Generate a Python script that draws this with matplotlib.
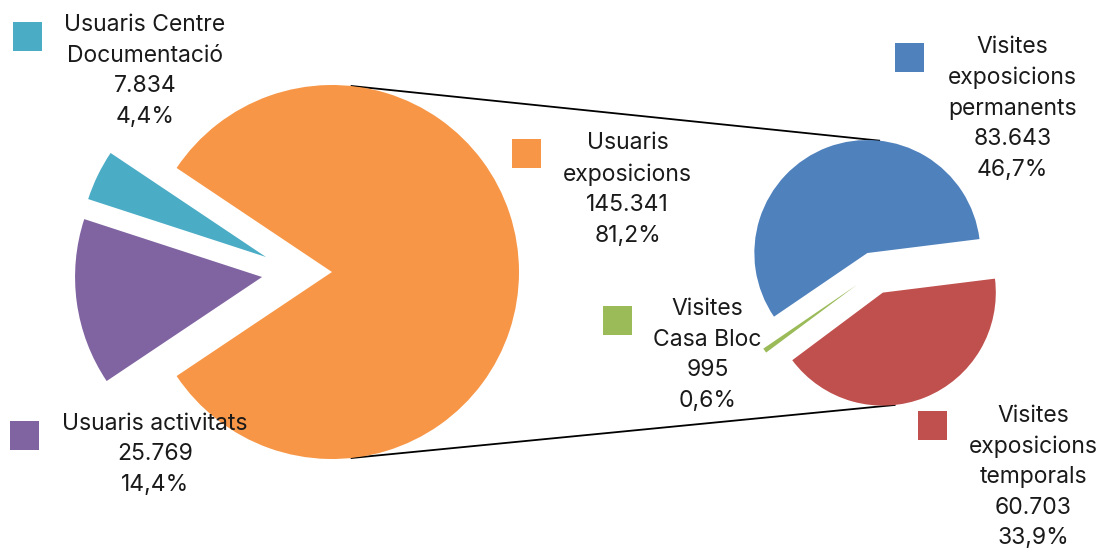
import math
import matplotlib
matplotlib.use('Agg')
import matplotlib.pyplot as plt

plt.rcParams['font.family'] = ['Inter', 'DejaVu Sans']

# main pie
main_names = ['Usuaris\nexposicions', 'Usuaris Centre\nDocumentació', 'Usuaris activitats']
main_values = [145341, 7834, 25769]
main_colors = ['#F79646', '#4BACC6', '#8064A2']

# secondary pie (breakdown of "Usuaris exposicions")
sub_names = ['Visites\nexposicions\npermanents', 'Visites\nCasa Bloc', 'Visites\nexposicions\ntemporals']
sub_values = [83643, 995, 60703]
sub_colors = ['#4F81BD', '#9BBB59', '#C0504D']

W, H = 1105, 551
total = sum(main_values)


def fmt(v):
    num = f'{v:,}'.replace(',', '.')
    pct = f'{100 * v / total:.1f}'.replace('.', ',')
    return f'{num}\n{pct}%'


fig = plt.figure(figsize=(W / 100, H / 100), dpi=100)
ax = fig.add_axes([0, 0, 1, 1])

# left pie, orange slice centred on the right
start = -360 * main_values[0] / total / 2
w_main, _ = ax.pie(main_values, colors=main_colors, startangle=start,
                   center=(332, H - 272), radius=187, frame=True,
                   wedgeprops=dict(linewidth=0))
# explosion of the two small slices (distance in radii, direction in deg)
for w, (d, ang) in zip(w_main[1:], [(0.362, 167.2), (0.375, 184.1)]):
    cx, cy = w.center
    w.set_center((cx + d * w.r * math.cos(math.radians(ang)),
                  cy + d * w.r * math.sin(math.radians(ang))))

w_sub, _ = ax.pie(sub_values, colors=sub_colors, startangle=7.1,
                  center=(874.6, H - 272.2), radius=113, frame=True,
                  explode=[20.5, 22, 22], wedgeprops=dict(linewidth=0))

# connector lines
a = math.radians(84)
o = w_main[0]
b = w_sub[0]
r = w_sub[2]
ax.plot([o.center[0] + o.r * math.cos(a), b.center[0] + b.r * math.cos(a)],
        [o.center[1] + o.r * math.sin(a), b.center[1] + b.r * math.sin(a)],
        color='black', lw=1.3, zorder=0)
ax.plot([o.center[0] + o.r * math.cos(-a), r.center[0] + r.r * math.cos(-a)],
        [o.center[1] + o.r * math.sin(-a), r.center[1] + r.r * math.sin(-a)],
        color='black', lw=1.3, zorder=0)

# labels: (square centre x, y), (text centre x, y) in pixels from top
label_pos = {
    'main': [((526.5, 153.5), (627.5, 189.5)),
             ((27.5, 36.5), (145, 71)),
             ((24.5, 435.5), (155, 454.5))],
    'sub': [((909.5, 57.5), (1012.5, 108.5)),
            ((617.5, 320.5), (707.5, 355)),
            ((932.5, 425.5), (1033.5, 477))],
}

for names, values, colors, pos in [(main_names, main_values, main_colors, label_pos['main']),
                                   (sub_names, sub_values, sub_colors, label_pos['sub'])]:
    for name, v, c, (sq, tx) in zip(names, values, colors, pos):
        ax.add_patch(plt.Rectangle((sq[0] - 14.5, H - sq[1] - 14.5), 29, 29,
                                   facecolor=c, edgecolor='none'))
        ax.text(tx[0], H - tx[1], name + '\n' + fmt(v), ha='center', va='center',
                fontsize=16.5, linespacing=1.5, color='#1a1a1a')

ax.set_xlim(0, W)
ax.set_ylim(0, H)
ax.set_aspect('equal')
ax.axis('off')
fig.savefig('out.png', dpi=100)
